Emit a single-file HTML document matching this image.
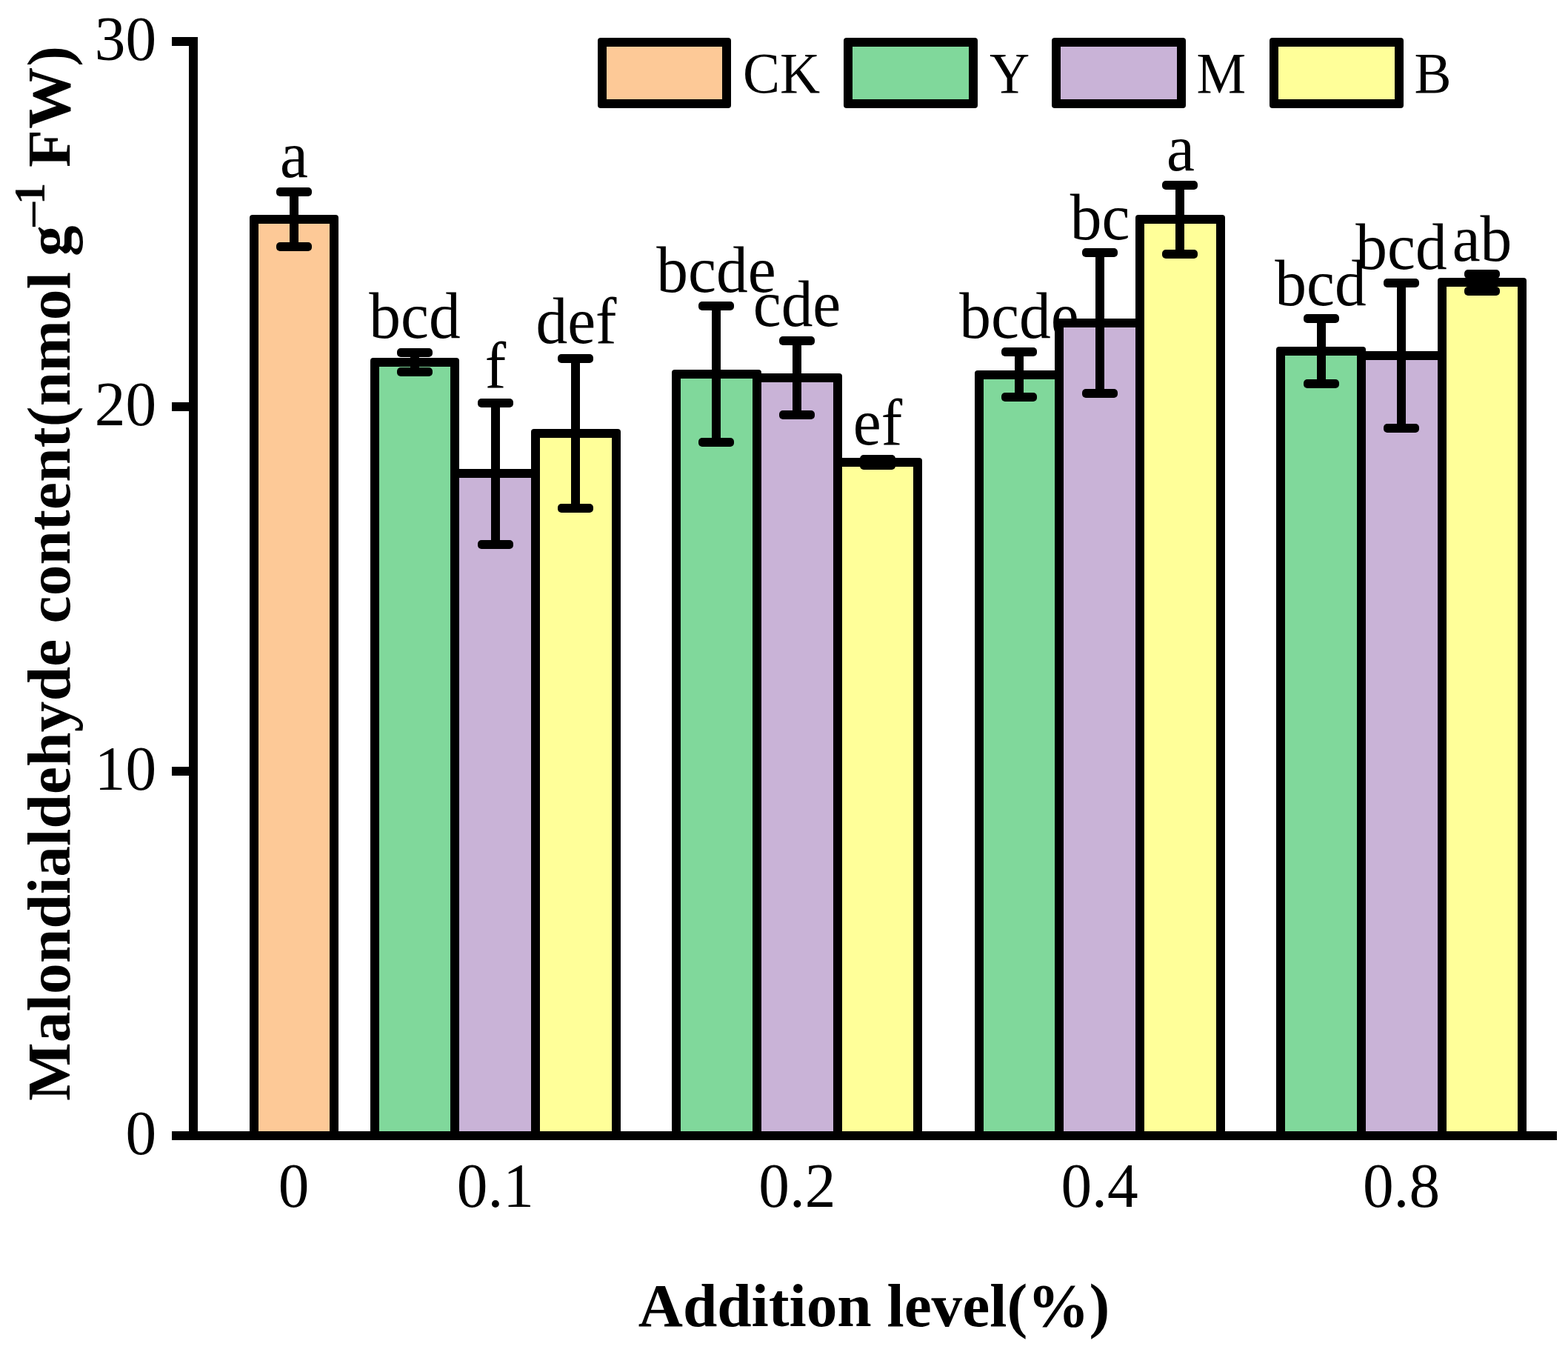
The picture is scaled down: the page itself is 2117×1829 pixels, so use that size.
<!DOCTYPE html>
<html lang="en">
<head>
<meta charset="utf-8">
<title>Malondialdehyde content</title>
<style>
html,body{margin:0;padding:0;background:#fff;}
body{width:2117px;height:1829px;overflow:hidden;}
svg{display:block;}
text{font-family:"Liberation Serif","Times New Roman",Times,serif;fill:#000;}
.tick{font-size:83.33px;}
.lab{font-size:91.67px;text-anchor:middle;}
.leg{font-size:75px;}
.title{font-size:83.33px;font-weight:bold;}
.sup{font-size:58.33px;font-weight:bold;}
.k{fill:#000;}
</style>
</head>
<body>
<svg width="2117" height="1829" viewBox="0 0 2117 1829">
<rect x="0" y="0" width="2117" height="1829" fill="#fff"/>

<g id="series-CK">
<rect class="k" x="337" y="290" width="120" height="1249" rx="4" ry="4"/><rect x="349" y="302" width="96" height="1225" fill="#FDC997"/>
<rect class="k" x="391" y="259" width="12" height="74"/>
<rect class="k" x="373" y="253" width="48" height="12" rx="5" ry="5"/>
<rect class="k" x="373" y="327" width="48" height="12" rx="5" ry="5"/>
<text class="lab" transform="translate(397 239.3) scale(0.932 0.965)">a</text>
</g>
<g id="series-Y">
<rect class="k" x="500" y="483" width="120" height="1056" rx="4" ry="4"/><rect x="512" y="495" width="96" height="1032" fill="#80D89B"/>
<rect class="k" x="907" y="499" width="121" height="1040" rx="4" ry="4"/><rect x="919" y="511" width="97" height="1016" fill="#80D89B"/>
<rect class="k" x="1316" y="500" width="120" height="1039" rx="4" ry="4"/><rect x="1328" y="512" width="96" height="1015" fill="#80D89B"/>
<rect class="k" x="1723" y="468" width="121" height="1071" rx="4" ry="4"/><rect x="1735" y="480" width="97" height="1047" fill="#80D89B"/>
<rect class="k" x="554" y="476" width="12" height="26"/>
<rect class="k" x="536" y="470" width="48" height="12" rx="5" ry="5"/>
<rect class="k" x="536" y="496" width="48" height="12" rx="5" ry="5"/>
<rect class="k" x="961" y="413" width="12" height="184"/>
<rect class="k" x="943" y="407" width="48" height="12" rx="5" ry="5"/>
<rect class="k" x="943" y="591" width="48" height="12" rx="5" ry="5"/>
<rect class="k" x="1370" y="475" width="12" height="61"/>
<rect class="k" x="1352" y="469" width="48" height="12" rx="5" ry="5"/>
<rect class="k" x="1352" y="530" width="48" height="12" rx="5" ry="5"/>
<rect class="k" x="1778" y="430" width="12" height="88"/>
<rect class="k" x="1760" y="424" width="48" height="12" rx="5" ry="5"/>
<rect class="k" x="1760" y="512" width="48" height="12" rx="5" ry="5"/>
<text class="lab" transform="translate(560 456) scale(0.932 0.965)">bcd</text>
<text class="lab" transform="translate(967 394) scale(0.932 0.965)">bcde</text>
<text class="lab" transform="translate(1376 456.4) scale(0.932 0.965)">bcde</text>
<text class="lab" transform="translate(1783 411.9) scale(0.932 0.965)">bcd</text>
</g>
<g id="series-M">
<rect class="k" x="608" y="633" width="121" height="906" rx="4" ry="4"/><rect x="620" y="645" width="97" height="882" fill="#C9B3D7"/>
<rect class="k" x="1016" y="504" width="121" height="1035" rx="4" ry="4"/><rect x="1028" y="516" width="97" height="1011" fill="#C9B3D7"/>
<rect class="k" x="1424" y="430" width="121" height="1109" rx="4" ry="4"/><rect x="1436" y="442" width="97" height="1085" fill="#C9B3D7"/>
<rect class="k" x="1832" y="474" width="121" height="1065" rx="4" ry="4"/><rect x="1844" y="486" width="97" height="1041" fill="#C9B3D7"/>
<rect class="k" x="663" y="544" width="12" height="191"/>
<rect class="k" x="645" y="538" width="48" height="12" rx="5" ry="5"/>
<rect class="k" x="645" y="729" width="48" height="12" rx="5" ry="5"/>
<rect class="k" x="1070" y="460" width="12" height="100"/>
<rect class="k" x="1052" y="454" width="48" height="12" rx="5" ry="5"/>
<rect class="k" x="1052" y="554" width="48" height="12" rx="5" ry="5"/>
<rect class="k" x="1479" y="341" width="12" height="190"/>
<rect class="k" x="1461" y="335" width="48" height="12" rx="5" ry="5"/>
<rect class="k" x="1461" y="525" width="48" height="12" rx="5" ry="5"/>
<rect class="k" x="1886" y="382" width="12" height="196"/>
<rect class="k" x="1868" y="376" width="48" height="12" rx="5" ry="5"/>
<rect class="k" x="1868" y="572" width="48" height="12" rx="5" ry="5"/>
<text class="lab" transform="translate(669 523.3) scale(0.932 0.965)">f</text>
<text class="lab" transform="translate(1076 439.5) scale(0.932 0.965)">cde</text>
<text class="lab" transform="translate(1485 322.7) scale(0.932 0.965)">bc</text>
<text class="lab" transform="translate(1892 363) scale(0.932 0.965)">bcd</text>
</g>
<g id="series-B">
<rect class="k" x="717" y="579" width="121" height="960" rx="4" ry="4"/><rect x="729" y="591" width="97" height="936" fill="#FFFF99"/>
<rect class="k" x="1125" y="618" width="120" height="921" rx="4" ry="4"/><rect x="1137" y="630" width="96" height="897" fill="#FFFF99"/>
<rect class="k" x="1533" y="290" width="121" height="1249" rx="4" ry="4"/><rect x="1545" y="302" width="97" height="1225" fill="#FFFF99"/>
<rect class="k" x="1941" y="375" width="120" height="1164" rx="4" ry="4"/><rect x="1953" y="387" width="96" height="1140" fill="#FFFF99"/>
<rect class="k" x="771" y="484" width="12" height="202"/>
<rect class="k" x="753" y="478" width="48" height="12" rx="5" ry="5"/>
<rect class="k" x="753" y="680" width="48" height="12" rx="5" ry="5"/>
<rect class="k" x="1179" y="620" width="12" height="8"/>
<rect class="k" x="1161" y="614" width="48" height="12" rx="5" ry="5"/>
<rect class="k" x="1161" y="622" width="48" height="12" rx="5" ry="5"/>
<rect class="k" x="1587" y="250" width="12" height="93"/>
<rect class="k" x="1569" y="244" width="48" height="12" rx="5" ry="5"/>
<rect class="k" x="1569" y="337" width="48" height="12" rx="5" ry="5"/>
<rect class="k" x="1995" y="370" width="12" height="23"/>
<rect class="k" x="1977" y="364" width="48" height="12" rx="5" ry="5"/>
<rect class="k" x="1977" y="387" width="48" height="12" rx="5" ry="5"/>
<text class="lab" transform="translate(778 462.8) scale(0.932 0.965)">def</text>
<text class="lab" transform="translate(1185 600) scale(0.932 0.965)">ef</text>
<text class="lab" transform="translate(1594 229.5) scale(0.932 0.965)">a</text>
<text class="lab" transform="translate(2001 351.7) scale(0.932 0.965)">ab</text>
</g>
<g id="axes" class="k">
<rect x="255" y="50" width="12" height="1489"/>
<rect x="232" y="1527" width="1870" height="12"/>
<rect x="232" y="1035" width="30" height="12"/>
<rect x="232" y="543" width="30" height="12"/>
<rect x="232" y="50" width="30" height="12"/>
</g>
<g id="yticks" class="tick" text-anchor="end">
<text transform="translate(211.1 1557.8) scale(1 1.018)">0</text>
<text transform="translate(211.1 1065.8) scale(1 1.018)">10</text>
<text transform="translate(211.1 573.8) scale(1 1.018)">20</text>
<text transform="translate(211.1 80.8) scale(1 1.018)">30</text>
</g>
<g id="xticks" class="tick" text-anchor="middle">
<text transform="translate(396.7 1628.6) scale(1 1.018)">0</text>
<text transform="translate(668.8 1628.6) scale(1 1.018)">0.1</text>
<text transform="translate(1076.3 1628.6) scale(1 1.018)">0.2</text>
<text transform="translate(1484.5 1628.6) scale(1 1.018)">0.4</text>
<text transform="translate(1892 1628.6) scale(1 1.018)">0.8</text>
</g>
<g id="legend">
<rect class="k" x="807" y="51" width="180" height="95" rx="4" ry="4"/><rect x="819" y="63" width="156" height="71" fill="#FDC997"/>
<text class="leg" transform="translate(1003 125.3) scale(1 1.03)">CK</text>
<rect class="k" x="1139" y="51" width="181" height="95" rx="4" ry="4"/><rect x="1151" y="63" width="157" height="71" fill="#80D89B"/>
<text class="leg" transform="translate(1336 125.3) scale(1 1.03)">Y</text>
<rect class="k" x="1420" y="51" width="181" height="95" rx="4" ry="4"/><rect x="1432" y="63" width="157" height="71" fill="#C9B3D7"/>
<text class="leg" transform="translate(1615.5 125.3) scale(1 1.03)">M</text>
<rect class="k" x="1714" y="51" width="181" height="95" rx="4" ry="4"/><rect x="1726" y="63" width="157" height="71" fill="#FFFF99"/>
<text class="leg" transform="translate(1909.5 125.3) scale(1 1.03)">B</text>
</g>
<text class="title" text-anchor="middle" x="1180" y="1790">Addition level(%)</text>
<g id="ytitle" transform="translate(93.7 0) rotate(-90)">
<text class="title" x="-1486" y="0" letter-spacing="0.2">Malondialdehyde content(nmol g</text>
<text class="sup" transform="translate(-310 -28.9) scale(1.245 1)">−</text>
<text class="sup" x="-276" y="-33.7">1</text>
<text class="title" x="-226" y="0" letter-spacing="1">FW)</text>
</g>
</svg>
</body>
</html>
